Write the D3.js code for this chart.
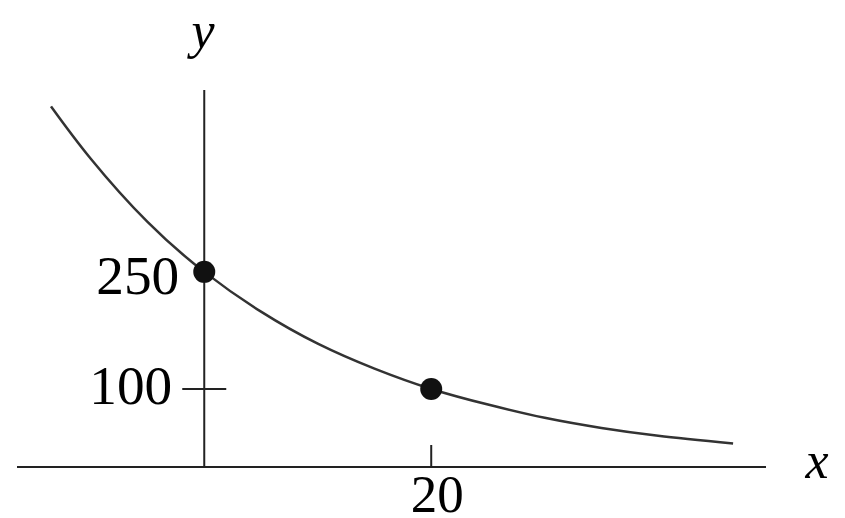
<!DOCTYPE html>
<html>
<head>
<meta charset="utf-8">
<script src="https://cdn.jsdelivr.net/npm/d3@7"></script>
<style>
  html, body { margin: 0; padding: 0; background: #fff; }
  svg { display: block; }
  text { font-family: "Liberation Serif", "DejaVu Serif", serif; fill: #000; }
</style>
</head>
<body>
<div id="chart"></div>
<script>
// values
const curveX = [-13.5, -10, -5, 0, 5, 10, 15, 20, 25, 30, 35, 40, 46.6];
const curveY = [462, 395, 314, 250, 199, 158, 126, 100, 80, 63, 50, 40, 30];
const pointX = [0, 20];
const pointY = [250, 100];
const xTicks = [20];
const yTicks = [100, 250];

const width = 845, height = 518;

const x = d3.scaleLinear().domain([-16.5, 49.5]).range([17, 766]);
const y = d3.scaleLinear().domain([0, 483]).range([467, 90]);

const svg = d3.select("#chart").append("svg")
  .attr("width", width)
  .attr("height", height);

// x axis
svg.append("line")
  .attr("x1", x(-16.5)).attr("x2", x(49.5))
  .attr("y1", y(0)).attr("y2", y(0))
  .attr("stroke", "#222").attr("stroke-width", 2);

// y axis
svg.append("line")
  .attr("x1", x(0)).attr("x2", x(0))
  .attr("y1", y(0)).attr("y2", y(483))
  .attr("stroke", "#222").attr("stroke-width", 2);

// x ticks (only above the axis)
svg.selectAll("line.xtick")
  .data(xTicks)
  .join("line")
  .attr("class", "xtick")
  .attr("x1", d => x(d)).attr("x2", d => x(d))
  .attr("y1", y(0)).attr("y2", y(0) - 22)
  .attr("stroke", "#222").attr("stroke-width", 2);

svg.selectAll("text.xlab")
  .data(xTicks)
  .join("text")
  .attr("class", "xlab")
  .attr("x", d => x(d) + 6)
  .attr("y", 512)
  .attr("text-anchor", "middle")
  .attr("font-size", 53)
  .text(d => d);

// y tick: 100 crosses the axis, 250 is marked by the dot
svg.append("line")
  .attr("x1", x(0) - 22).attr("x2", x(0) + 22)
  .attr("y1", y(100)).attr("y2", y(100))
  .attr("stroke", "#222").attr("stroke-width", 2);

const yLabelShift = { 100: [-32, 15], 250: [-25, 22] };
svg.selectAll("text.ylab")
  .data(yTicks)
  .join("text")
  .attr("class", "ylab")
  .attr("x", d => x(0) + yLabelShift[d][0])
  .attr("y", d => y(d) + yLabelShift[d][1])
  .attr("text-anchor", "end")
  .attr("font-size", 54)
  .attr("textLength", 83)
  .attr("lengthAdjust", "spacingAndGlyphs")
  .text(d => d);

// curve
const line = d3.line()
  .x(d => x(d[0]))
  .y(d => y(d[1]))
  .curve(d3.curveNatural);

svg.append("path")
  .datum(d3.zip(curveX, curveY))
  .attr("d", line)
  .attr("fill", "none")
  .attr("stroke", "#333")
  .attr("stroke-width", 2.5);

// dots
svg.selectAll("circle")
  .data(d3.zip(pointX, pointY))
  .join("circle")
  .attr("cx", d => x(d[0]))
  .attr("cy", d => y(d[1]))
  .attr("r", 11)
  .attr("fill", "#111");

// axis names
svg.append("text")
  .attr("x", 203).attr("y", 48)
  .attr("text-anchor", "middle")
  .attr("font-size", 52)
  .attr("font-style", "italic")
  .text("y");

svg.append("text")
  .attr("x", 817).attr("y", 478)
  .attr("text-anchor", "middle")
  .attr("font-size", 52)
  .attr("font-style", "italic")
  .text("x");
</script>
</body>
</html>
